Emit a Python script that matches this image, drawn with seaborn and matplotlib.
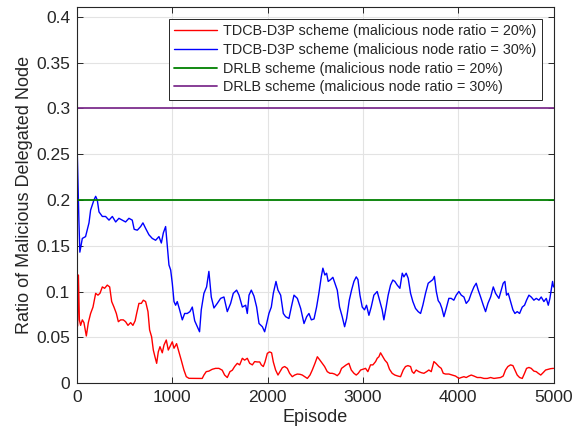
import matplotlib
matplotlib.use("Agg")
import matplotlib.pyplot as plt
from matplotlib.ticker import FuncFormatter, MultipleLocator
import numpy as np
import pandas as pd
import seaborn as sns

# ---- data -------------------------------------------------------------
series_names = [
    "TDCB-D3P scheme (malicious node ratio = 20%)",
    "TDCB-D3P scheme (malicious node ratio = 30%)",
    "DRLB scheme (malicious node ratio = 20%)",
    "DRLB scheme (malicious node ratio = 30%)",
]
series_colors = ["#ff0000", "#0000ff", "#008000", "#7e2f8e"]

red_ep = [0, 5, 15, 25, 38, 56, 73, 98, 119, 143, 168, 196, 220, 241, 266, 290, 318, 343, 364, 388,
          413, 434, 458, 486, 510, 535, 563, 587, 610, 626, 650, 675, 696, 720, 745, 762, 783, 801, 818,
          836, 853, 871, 895, 913, 937, 958, 983, 1000, 1018, 1045, 1070, 1094, 1122, 1147, 1175, 1227,
          1280, 1314, 1332, 1356, 1384, 1419, 1454, 1489, 1524, 1549, 1577, 1605, 1630, 1654, 1682, 1707,
          1735, 1759, 1787, 1812, 1840, 1864, 1892, 1917, 1934, 1955, 1973, 1997, 2021, 2042, 2060, 2084,
          2109, 2130, 2155, 2179, 2207, 2231, 2259, 2284, 2312, 2340, 2364, 2389, 2417, 2445, 2469, 2497,
          2522, 2549, 2573, 2598, 2626, 2654, 2678, 2703, 2731, 2755, 2776, 2801, 2825, 2853, 2878, 2906,
          2930, 2951, 2976, 3000, 3028, 3052, 3080, 3105, 3133, 3150, 3168, 3185, 3209, 3230, 3255, 3279,
          3307, 3335, 3367, 3395, 3423, 3447, 3472, 3500, 3517, 3535, 3559, 3587, 3612, 3640, 3668, 3692,
          3717, 3745, 3766, 3797, 3822, 3843, 3867, 3902, 3937, 3972, 4007, 4032, 4060, 4084, 4112, 4137,
          4165, 4200, 4235, 4270, 4305, 4340, 4375, 4409, 4444, 4472, 4496, 4521, 4549, 4574, 4595, 4619,
          4644, 4672, 4696, 4717, 4742, 4766, 4794, 4819, 4840, 4866, 4891, 4917, 4945, 4970, 5000]
red_val = [0.151, 0.062, 0.118, 0.069, 0.063, 0.069, 0.066, 0.0514, 0.066, 0.076, 0.083, 0.098, 0.096,
           0.098, 0.105, 0.1035, 0.107, 0.105, 0.089, 0.083, 0.076, 0.067, 0.069, 0.069, 0.067, 0.063,
           0.066, 0.063, 0.068, 0.076, 0.087, 0.087, 0.0905, 0.089, 0.078, 0.058, 0.0505, 0.036, 0.0287,
           0.0215, 0.034, 0.0397, 0.033, 0.0415, 0.047, 0.036, 0.0415, 0.045, 0.038, 0.043, 0.034, 0.025,
           0.0142, 0.0069, 0.0051, 0.005, 0.005, 0.005, 0.0087, 0.0124, 0.013, 0.015, 0.016, 0.016, 0.014,
           0.0087, 0.006, 0.0124, 0.014, 0.018, 0.0215, 0.0198, 0.027, 0.025, 0.027, 0.0215, 0.0198,
           0.0234, 0.023, 0.023, 0.0198, 0.018, 0.023, 0.0324, 0.034, 0.033, 0.023, 0.0142, 0.0087, 0.0124,
           0.0168, 0.018, 0.016, 0.0106, 0.0069, 0.0087, 0.0098, 0.0095, 0.0087, 0.0069, 0.005, 0.0087,
           0.0142, 0.0215, 0.0287, 0.025, 0.0215, 0.018, 0.0124, 0.0106, 0.0106, 0.0098, 0.008, 0.0106,
           0.016, 0.018, 0.0198, 0.0215, 0.0142, 0.0106, 0.0087, 0.0106, 0.0142, 0.015, 0.016, 0.0124,
           0.0198, 0.0198, 0.0234, 0.027, 0.0287, 0.033, 0.0287, 0.025, 0.022, 0.015, 0.0106, 0.0087,
           0.0076, 0.0069, 0.0142, 0.018, 0.019, 0.018, 0.0124, 0.0106, 0.0142, 0.0124, 0.0113, 0.0106,
           0.0124, 0.0142, 0.0124, 0.0234, 0.0215, 0.018, 0.016, 0.0106, 0.0098, 0.0098, 0.0087, 0.0076,
           0.005, 0.006, 0.0069, 0.006, 0.0076, 0.0087, 0.0076, 0.006, 0.006, 0.005, 0.005, 0.006, 0.005,
           0.0055, 0.006, 0.0076, 0.0142, 0.018, 0.0198, 0.019, 0.0142, 0.0087, 0.006, 0.005, 0.0106,
           0.016, 0.017, 0.016, 0.013, 0.0124, 0.0106, 0.0087, 0.0113, 0.0142, 0.015, 0.0157, 0.016]

blue_ep = [0, 10, 20, 30, 56, 90, 126, 143, 178, 196, 213, 231, 266, 300, 336, 371, 406, 440, 475, 510,
           545, 580, 600, 633, 668, 692, 720, 755, 790, 825, 860, 885, 906, 930, 948, 965, 983, 1000, 1018,
           1035, 1052, 1077, 1105, 1130, 1157, 1185, 1210, 1235, 1262, 1286, 1304, 1332, 1360, 1384, 1409,
           1437, 1472, 1507, 1542, 1577, 1612, 1640, 1675, 1700, 1735, 1770, 1787, 1805, 1829, 1857, 1885,
           1910, 1945, 1969, 1990, 2014, 2039, 2060, 2088, 2109, 2137, 2165, 2189, 2224, 2249, 2277, 2312,
           2347, 2382, 2410, 2434, 2459, 2487, 2514, 2538, 2563, 2580, 2601, 2619, 2636, 2661, 2685, 2706,
           2731, 2755, 2783, 2808, 2829, 2857, 2881, 2906, 2930, 2948, 2969, 2993, 3017, 3038, 3063, 3087,
           3115, 3150, 3178, 3202, 3220, 3244, 3265, 3290, 3314, 3335, 3360, 3388, 3413, 3430, 3454, 3475,
           3500, 3524, 3552, 3580, 3605, 3629, 3657, 3685, 3710, 3734, 3750, 3770, 3790, 3810, 3829, 3850,
           3874, 3902, 3926, 3954, 3979, 4007, 4032, 4060, 4084, 4112, 4137, 4165, 4189, 4210, 4235, 4263,
           4287, 4312, 4340, 4368, 4392, 4427, 4451, 4472, 4490, 4507, 4525, 4549, 4574, 4595, 4619, 4644,
           4672, 4696, 4717, 4742, 4766, 4794, 4819, 4847, 4871, 4899, 4924, 4945, 4962, 4976, 4990, 5000]
blue_val = [0.265, 0.222, 0.178, 0.143, 0.158, 0.16, 0.175, 0.189, 0.2, 0.204, 0.2, 0.187, 0.182, 0.182,
            0.178, 0.182, 0.176, 0.18, 0.178, 0.176, 0.18, 0.178, 0.168, 0.167, 0.171, 0.175, 0.169, 0.162,
            0.158, 0.156, 0.16, 0.153, 0.164, 0.171, 0.149, 0.129, 0.1235, 0.109, 0.089, 0.085, 0.089,
            0.08, 0.069, 0.076, 0.076, 0.078, 0.083, 0.068, 0.0615, 0.056, 0.08, 0.098, 0.105, 0.122,
            0.094, 0.082, 0.087, 0.0925, 0.094, 0.078, 0.087, 0.098, 0.1015, 0.096, 0.083, 0.085, 0.076,
            0.096, 0.1015, 0.095, 0.083, 0.065, 0.0615, 0.056, 0.065, 0.076, 0.083, 0.098, 0.111, 0.1015,
            0.096, 0.076, 0.0725, 0.0705, 0.083, 0.096, 0.0925, 0.0815, 0.065, 0.0725, 0.076, 0.069, 0.07,
            0.083, 0.098, 0.116, 0.1255, 0.118, 0.12, 0.111, 0.113, 0.1155, 0.109, 0.1015, 0.083, 0.0725,
            0.0615, 0.0705, 0.0905, 0.1015, 0.111, 0.116, 0.113, 0.096, 0.083, 0.08, 0.085, 0.074, 0.083,
            0.096, 0.1, 0.089, 0.08, 0.069, 0.083, 0.096, 0.107, 0.1125, 0.111, 0.107, 0.1035, 0.12, 0.116,
            0.12, 0.1145, 0.098, 0.089, 0.0815, 0.078, 0.076, 0.085, 0.098, 0.109, 0.111, 0.113, 0.1165,
            0.1, 0.09, 0.087, 0.0815, 0.0725, 0.0815, 0.0925, 0.0925, 0.0905, 0.096, 0.1, 0.096, 0.094,
            0.087, 0.0905, 0.098, 0.105, 0.109, 0.1015, 0.094, 0.085, 0.078, 0.087, 0.094, 0.105, 0.098,
            0.0925, 0.1015, 0.109, 0.111, 0.096, 0.098, 0.089, 0.08, 0.076, 0.078, 0.076, 0.083, 0.085,
            0.0905, 0.096, 0.094, 0.0905, 0.0925, 0.0905, 0.094, 0.089, 0.0925, 0.085, 0.0925, 0.1015,
            0.111, 0.105]

drlb_ep = [0, 5000]
drlb_20 = [0.20, 0.20]
drlb_30 = [0.30, 0.30]

x_ticks = [0, 1000, 2000, 3000, 4000, 5000]

# ---- long-form table --------------------------------------------------
frames = []
for name, ep, val in zip(series_names,
                         [red_ep, blue_ep, drlb_ep, drlb_ep],
                         [red_val, blue_val, drlb_20, drlb_30]):
    frames.append(pd.DataFrame({"Episode": ep, "Ratio": val, "Scheme": name}))
df = pd.concat(frames, ignore_index=True)

# ---- style ------------------------------------------------------------
sns.set_style("ticks")
plt.rcParams["font.family"] = ["Liberation Sans", "DejaVu Sans"]
dark = "#262626"

fig = plt.figure(figsize=(5.81, 4.34), dpi=100)
ax = fig.add_axes([0.1325, 0.1175, 0.8202, 0.8657])

sns.lineplot(data=df, x="Episode", y="Ratio", hue="Scheme", hue_order=series_names,
             palette=series_colors, estimator=None, sort=False, ax=ax)

widths = [1.0, 1.0, 1.3, 1.3]
for line, w in zip(ax.get_lines(), widths):
    line.set_linewidth(w)

ax.set_xlim(0, 5000)
ax.set_ylim(0, 0.4106)
ax.set_xticks(x_ticks)
ax.yaxis.set_major_locator(MultipleLocator(0.05))
ax.yaxis.set_major_formatter(FuncFormatter(lambda v, p: "%g" % round(v, 3)))

ax.grid(True, color="#e3e3e3", linewidth=0.8)
ax.set_axisbelow(True)
for s in ax.spines.values():
    s.set_color(dark)
    s.set_linewidth(0.8)
ax.tick_params(direction="in", top=True, right=True, length=4, width=0.7,
               colors=dark, labelsize=12.5, pad=5)

ax.set_xlabel("Episode", fontsize=13, color=dark, labelpad=3)
ax.set_ylabel("Ratio of Malicious Delegated Node", fontsize=13, color=dark, labelpad=2)

leg = ax.legend(loc="upper right", fontsize=10.35, frameon=True, fancybox=False,
                framealpha=1, edgecolor=dark, handlelength=3.0, handletextpad=0.4,
                labelspacing=0.33, borderpad=0.38, borderaxespad=0.8)
leg.get_frame().set_linewidth(0.7)
for lh, w in zip(leg.get_lines(), widths):
    lh.set_linewidth(w)

fig.savefig("out.png", dpi=100)
